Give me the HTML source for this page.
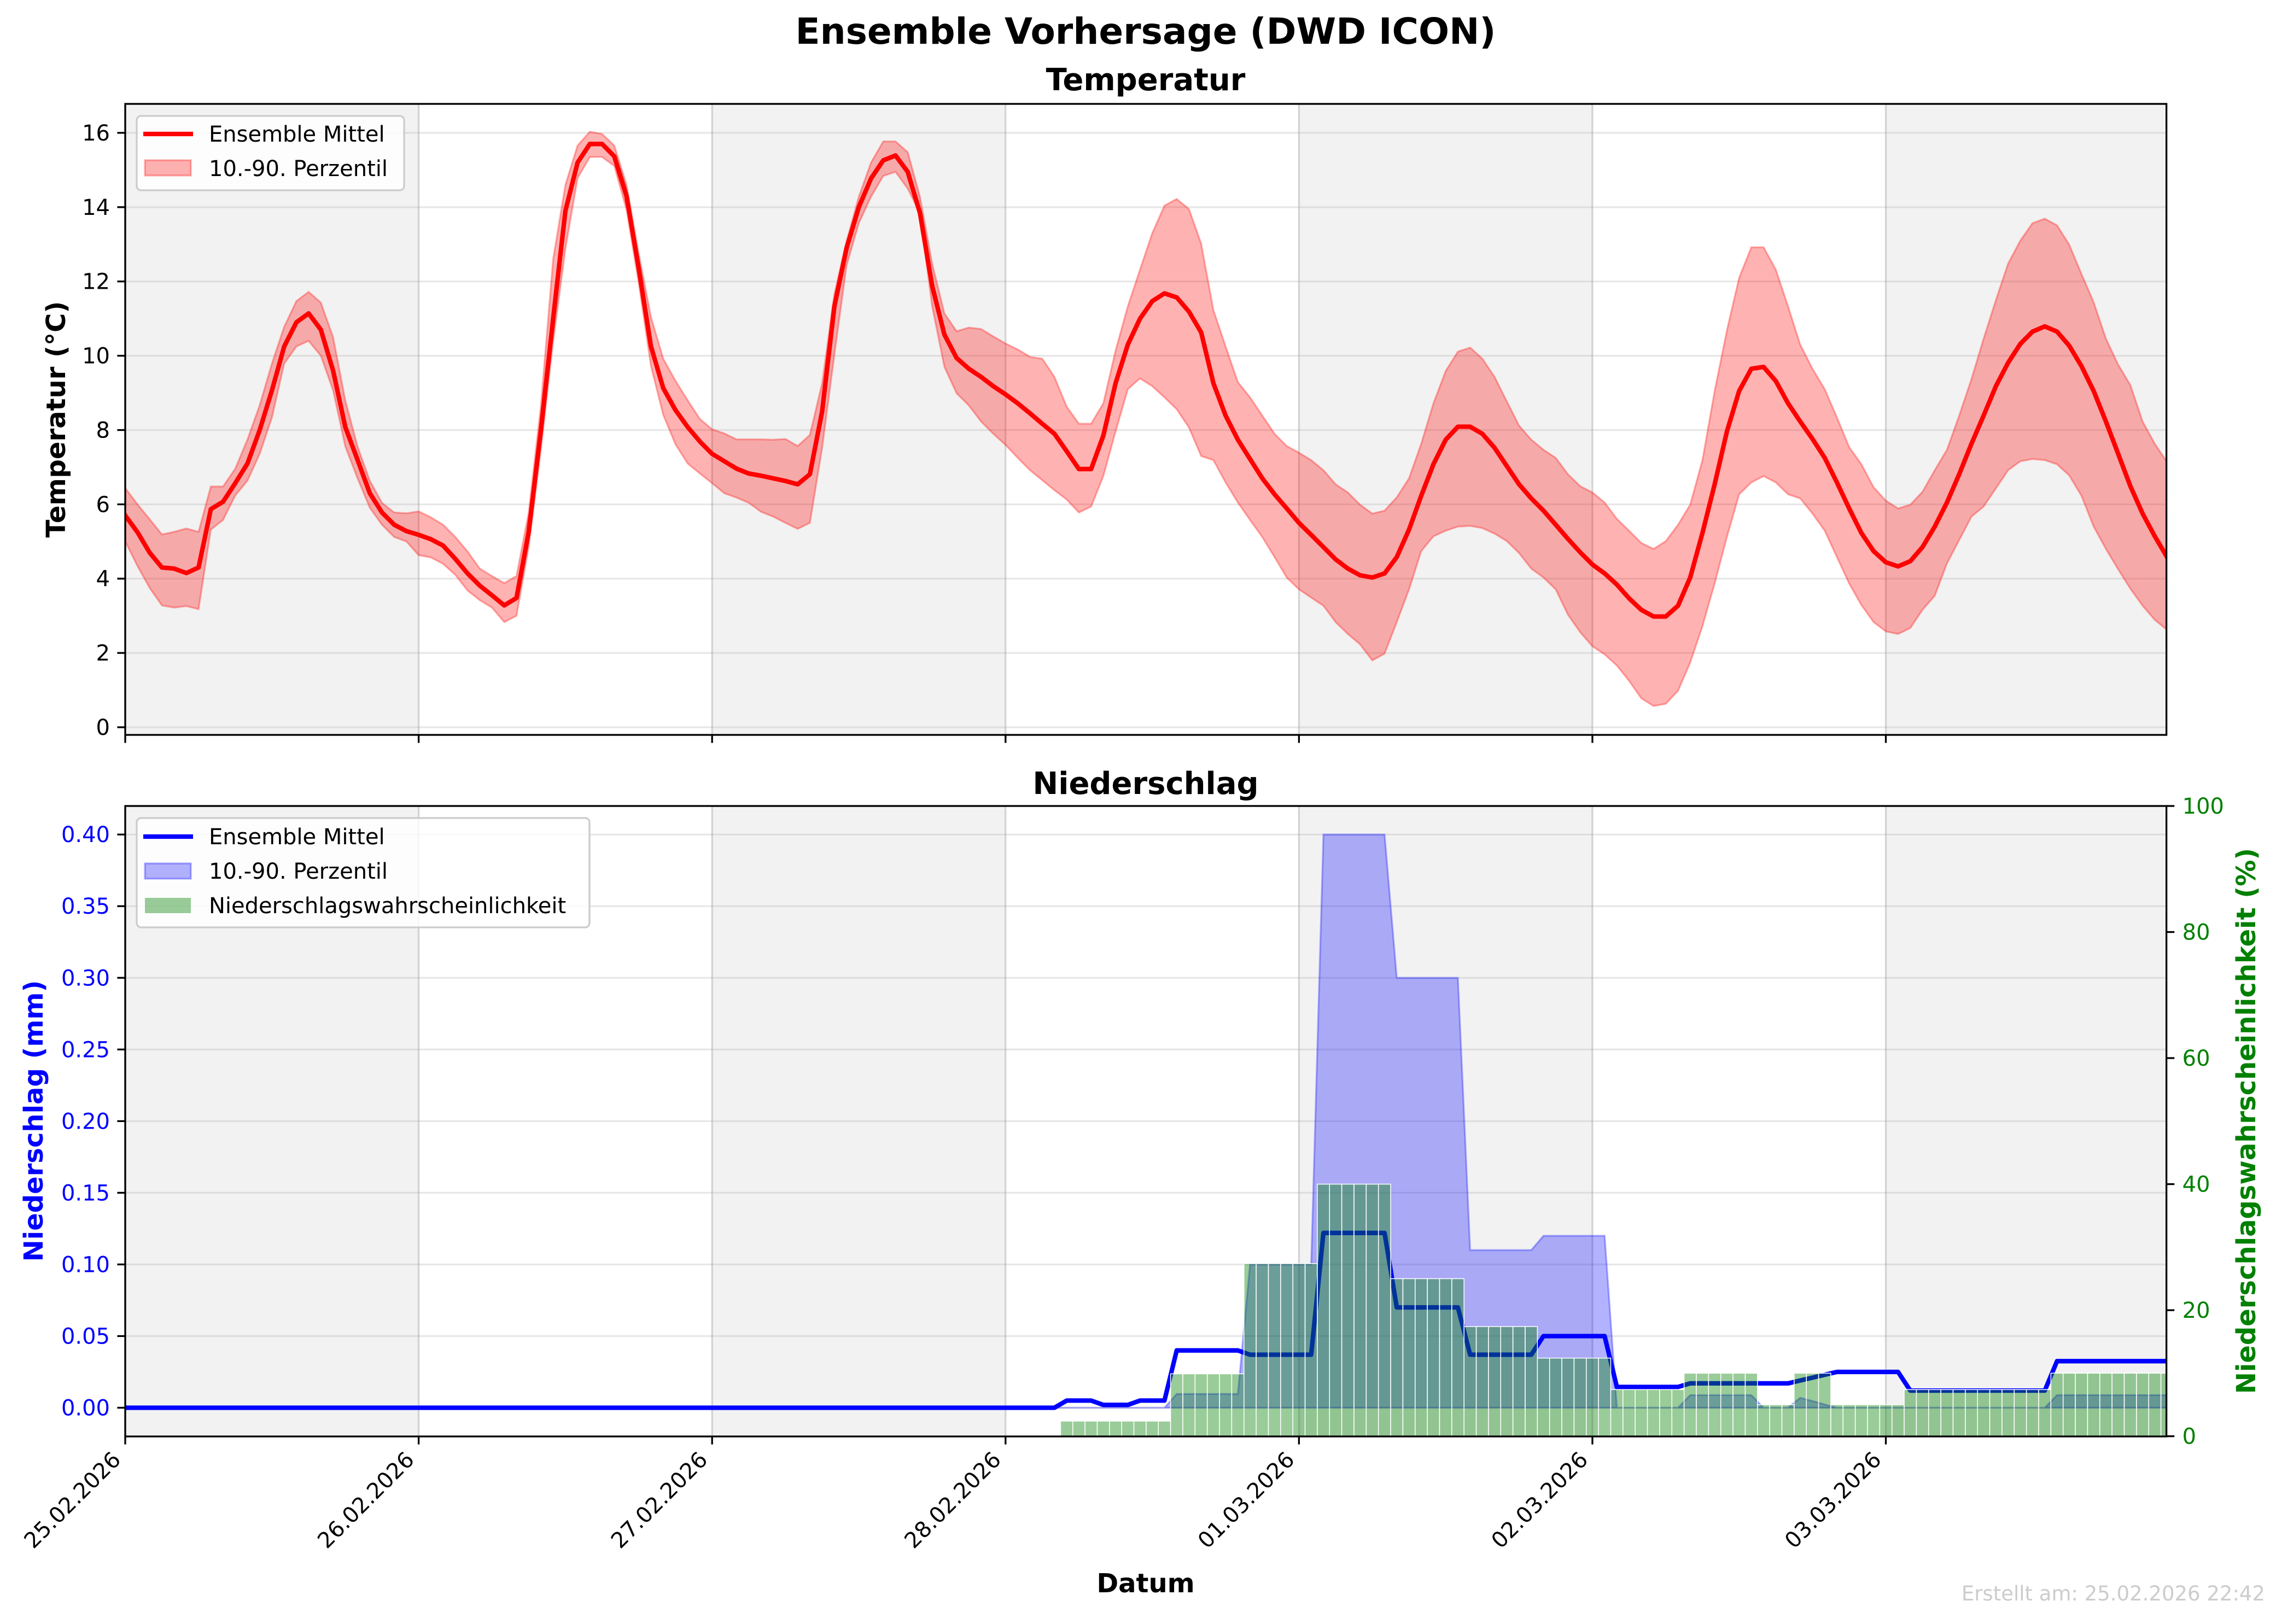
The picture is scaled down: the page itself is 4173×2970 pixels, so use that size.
<!DOCTYPE html>
<html><head><meta charset="utf-8"><style>
html,body{margin:0;padding:0;background:#fff;}
svg{display:block;font-family:"DejaVu Sans","Liberation Sans",sans-serif;}
</style></head><body>
<svg id="fig" xmlns="http://www.w3.org/2000/svg" width="4173" height="2970" viewBox="0 0 4173 2970">
<rect x="0" y="0" width="4173" height="2970" fill="#ffffff"/>
<text x="2095" y="80" text-anchor="middle" font-size="66" font-weight="bold">Ensemble Vorhersage (DWD ICON)</text>
<text x="2095" y="165" text-anchor="middle" font-size="56" font-weight="bold">Temperatur</text>
<text x="2095" y="1452" text-anchor="middle" font-size="56" font-weight="bold">Niederschlag</text>
<g id="tplot"></g>
<g id="pplot"></g>
<text x="103" y="767" text-anchor="middle" font-size="48" font-weight="bold" transform="rotate(-90 103 767)" dominant-baseline="central">Temperatur (°C)</text>
<text x="62" y="2050" text-anchor="middle" font-size="48" font-weight="bold" fill="#0000ff" transform="rotate(-90 62 2050)" dominant-baseline="central">Niederschlag (mm)</text>
<text x="4108" y="2050" text-anchor="middle" font-size="48" font-weight="bold" fill="#008000" transform="rotate(-90 4108 2050)" dominant-baseline="central">Niederschlagswahrscheinlichkeit (%)</text>
<text x="2095" y="2912" text-anchor="middle" font-size="48" font-weight="bold">Datum</text>
<text x="4142" y="2927" text-anchor="end" font-size="37" fill="#cccccc">Erstellt am: 25.02.2026 22:42</text>
</svg>
<script>
// ---- data ----
const dayLabels = ["25.02.2026","26.02.2026","27.02.2026","28.02.2026","01.03.2026","02.03.2026","03.03.2026"];
const tempTicks = [0,2,4,6,8,10,12,14,16];
const precipTicks = [0,0.05,0.10,0.15,0.20,0.25,0.30,0.35,0.40];
const probTicks = [0,20,40,60,80,100];
const tempMean = [5.7,5.25,4.7,4.3,4.27,4.15,4.3,5.87,6.07,6.57,7.1,8.0,9.07,10.25,10.9,11.14,10.7,9.6,8.08,7.2,6.3,5.78,5.45,5.28,5.18,5.06,4.89,4.53,4.14,3.81,3.55,3.28,3.48,5.26,8.0,11.0,13.9,15.2,15.7,15.7,15.37,14.3,12.35,10.25,9.13,8.54,8.08,7.69,7.36,7.16,6.96,6.83,6.77,
6.70,6.63,6.54,6.81,8.50,11.33,12.9,14.0,14.77,15.26,15.39,14.95,13.84,11.88,10.57,9.94,9.65,9.43,9.18,8.96,8.72,8.45,8.17,7.9,7.43,6.95,6.95,7.85,9.26,10.3,11.0,11.47,11.68,11.57,11.19,10.63,9.26,8.39,7.74,7.22,6.7,6.27,5.89,5.5,5.18,4.85,4.52,4.27,4.09,4.03,4.14,4.58,5.32,6.23,7.08,7.74,8.09,
8.09,7.9,7.52,7.03,6.54,6.16,5.83,5.45,5.07,4.71,4.38,4.14,3.84,3.47,3.16,2.98,2.98,3.27,4.03,5.23,6.54,7.96,9.05,9.65,9.7,9.32,8.72,8.23,7.76,7.25,6.59,5.89,5.23,4.74,4.44,4.33,4.47,4.85,5.4,6.05,6.81,7.63,8.39,9.18,9.81,10.32,10.65,10.79,10.65,10.27,9.72,9.05,8.23,7.36,6.49,5.75,5.14,4.58];
const tempP90 = [6.44,6.0,5.6,5.19,5.26,5.35,5.26,6.48,6.48,6.96,7.75,8.67,9.79,10.78,11.47,11.72,11.43,10.5,8.8,7.56,6.64,6.04,5.78,5.76,5.81,5.65,5.45,5.12,4.73,4.27,4.07,3.88,4.07,5.78,8.67,12.6,14.6,15.66,16.03,15.97,15.66,14.6,12.75,11.04,9.92,9.33,8.8,8.3,8.02,7.91,7.75,7.75,7.75,
7.74,7.76,7.57,7.87,9.26,11.66,13.08,14.28,15.2,15.77,15.77,15.48,14.28,12.48,11.14,10.66,10.76,10.72,10.52,10.33,10.17,9.97,9.92,9.43,8.63,8.17,8.17,8.72,10.14,11.33,12.32,13.3,14.04,14.22,13.95,13.02,11.23,10.25,9.29,8.88,8.39,7.9,7.57,7.39,7.19,6.92,6.54,6.32,5.99,5.75,5.83,6.19,6.7,7.63,8.72,9.59,10.11,
10.22,9.92,9.43,8.77,8.12,7.74,7.47,7.25,6.81,6.49,6.32,6.05,5.61,5.29,4.96,4.8,5.01,5.45,5.99,7.19,9.05,10.68,12.1,12.92,12.92,12.32,11.33,10.3,9.65,9.1,8.34,7.54,7.08,6.46,6.1,5.89,5.99,6.34,6.92,7.47,8.39,9.37,10.46,11.5,12.48,13.1,13.57,13.69,13.51,12.99,12.2,11.44,10.46,9.76,9.21,8.23,7.63,7.14];
const tempP10 = [5.0,4.34,3.75,3.28,3.22,3.26,3.18,5.32,5.58,6.24,6.64,7.36,8.34,9.79,10.25,10.4,10.0,9.07,7.56,6.7,5.91,5.45,5.12,5.0,4.63,4.57,4.4,4.1,3.68,3.42,3.22,2.83,3.0,4.86,7.49,10.38,12.88,14.78,15.35,15.35,15.11,13.93,11.96,9.72,8.41,7.62,7.1,6.83,6.57,6.3,6.18,6.04,5.8,
5.67,5.5,5.34,5.5,7.52,10.03,12.43,13.57,14.28,14.84,14.95,14.5,13.84,11.33,9.7,8.99,8.66,8.23,7.9,7.6,7.25,6.92,6.65,6.38,6.13,5.78,5.94,6.76,7.96,9.1,9.39,9.18,8.88,8.56,8.07,7.3,7.19,6.59,6.05,5.58,5.12,4.58,4.03,3.71,3.49,3.27,2.83,2.51,2.23,1.8,1.98,2.83,3.71,4.74,5.14,5.29,5.4,
5.42,5.36,5.21,5.01,4.69,4.27,4.03,3.71,3.03,2.56,2.18,1.96,1.66,1.25,0.78,0.57,0.63,0.98,1.74,2.72,3.87,5.12,6.27,6.59,6.76,6.59,6.27,6.16,5.75,5.29,4.58,3.87,3.29,2.83,2.58,2.51,2.67,3.16,3.54,4.41,5.04,5.67,5.94,6.43,6.92,7.16,7.22,7.19,7.08,6.78,6.23,5.4,4.8,4.25,3.73,3.27,2.89,2.62];
const precipMean = [0,0,0,0,0,0,0,0,0,0,0,0,0,0,0,0,0,0,0,0,0,0,0,0,0,0,0,0,0,0,0,0,0,0,0,0,0,0,0,0,0,0,0,0,0,0,0,0,0,0,0,0,0,0,0,0,0,0,0,0,0,0,0,0,0,0,0,0,0,0,0,0,0,0,0,0,0,
0.005,0.005,0.005,0.002,0.002,0.002,0.005,0.005,0.005,
0.040,0.040,0.040,0.040,0.040,0.040,0.037,0.037,0.037,0.037,0.037,0.037,
0.122,0.122,0.122,0.122,0.122,0.122,0.070,0.070,0.070,0.070,0.070,0.070,
0.037,0.037,0.037,0.037,0.037,0.037,0.050,0.050,0.050,0.050,0.050,0.050,
0.0145,0.0145,0.0145,0.0145,0.0145,0.0145,0.017,0.017,0.017,0.017,0.017,0.017,0.017,0.017,0.017,
0.019,0.021,0.023,0.025,0.025,0.025,0.025,0.025,0.025,
0.012,0.012,0.012,0.012,0.012,0.012,0.012,0.012,0.012,0.012,0.012,0.012,
0.0325,0.0325,0.0325,0.0325,0.0325,0.0325,0.0325,0.0325,0.0325,0.0325];
const precipP90 = [0,0,0,0,0,0,0,0,0,0,0,0,0,0,0,0,0,0,0,0,0,0,0,0,0,0,0,0,0,0,0,0,0,0,0,0,0,0,0,0,0,0,0,0,0,0,0,0,0,0,0,0,0,0,0,0,0,0,0,0,0,0,0,0,0,0,0,0,0,0,0,0,0,0,0,0,0,0,0,0,0,0,0,0,0,0,
0.0096,0.0096,0.0096,0.0096,0.0096,0.0096,0.10,0.10,0.10,0.10,0.10,0.10,
0.40,0.40,0.40,0.40,0.40,0.40,0.30,0.30,0.30,0.30,0.30,0.30,
0.11,0.11,0.11,0.11,0.11,0.11,0.12,0.12,0.12,0.12,0.12,0.12,
0,0,0,0,0,0,0.0088,0.0088,0.0088,0.0088,0.0088,0.0088,0,0,0,
0.007,0.0047,0.0023,0,0,0,0,0,0,0,0,0,0,0,0,0,0,0,0,0,0,
0.0088,0.0088,0.0088,0.0088,0.0088,0.0088,0.0088,0.0088,0.0088,0.0088];
const precipP10 = [0,0,0,0,0,0,0,0,0,0,0,0,0,0,0,0,0,0,0,0,0,0,0,0,0,0,0,0,0,0,0,0,0,0,0,0,0,0,0,0,0,0,0,0,0,0,0,0,0,0,0,0,0,0,0,0,0,0,0,0,0,0,0,0,0,0,0,0,0,0,0,0,0,0,0,0,0,0,0,0,0,0,0,0,0,0,0,0,0,0,0,0,0,0,0,0,0,0,0,0,0,0,0,0,0,0,0,0,0,0,0,0,0,0,0,0,0,0,0,0,0,0,0,0,0,0,0,0,0,0,0,0,0,0,0,0,0,0,0,0,0,0,0,0,0,0,0,0,0,0,0,0,0,0,0,0,0,0,0,0,0,0,0,0,0,0,0,0];
const precipProb = [0,0,0,0,0,0,0,0,0,0,0,0,0,0,0,0,0,0,0,0,0,0,0,0,0,0,0,0,0,0,0,0,0,0,0,0,0,0,0,0,0,0,0,0,0,0,0,0,0,0,0,0,0,0,0,0,0,0,0,0,0,0,0,0,0,0,0,0,0,0,0,0,0,0,0,0,0,
2.4,2.4,2.4,2.4,2.4,2.4,2.4,2.4,2.4,
9.9,9.9,9.9,9.9,9.9,9.9,27.4,27.4,27.4,27.4,27.4,27.4,
40,40,40,40,40,40,25,25,25,25,25,25,
17.4,17.4,17.4,17.4,17.4,17.4,12.4,12.4,12.4,12.4,12.4,12.4,
7.4,7.4,7.4,7.4,7.4,7.4,10,10,10,10,10,10,5,5,5,10,10,10,
5,5,5,5,5,5,7.4,7.4,7.4,7.4,7.4,7.4,7.4,7.4,7.4,7.4,7.4,7.4,
10,10,10,10,10,10,10,10,10,10];

// ---- layout ----
const NS = "http://www.w3.org/2000/svg";
const X0 = 229, HOUR = 22.358, XMAX_H = 166.95;
const X1 = X0 + XMAX_H * HOUR;
const T_TOP = 190, T_BOT = 1344;
const P_TOP = 1474, P_BOT = 2627;
const xS = h => X0 + h * HOUR;
const yT = v => 1330 - v * 67.94;
const yP = v => 2574.5 - v * 2620.8;
const yQ = v => 2626.6 - v * 11.526;

function mk(parent, tag, attrs, text) {
  const el = document.createElementNS(NS, tag);
  for (const k in attrs) el.setAttribute(k, attrs[k]);
  if (text !== undefined) el.textContent = text;
  parent.appendChild(el);
  return el;
}
const svg = document.getElementById('fig');
const defs = mk(svg, 'defs', {});
const cp1 = mk(defs, 'clipPath', {id: 'clipT'});
mk(cp1, 'rect', {x: X0, y: T_TOP, width: X1 - X0, height: T_BOT - T_TOP});
const cp2 = mk(defs, 'clipPath', {id: 'clipP'});
mk(cp2, 'rect', {x: X0, y: P_TOP, width: X1 - X0, height: P_BOT - P_TOP});

function buildFrame(g, top, bot, clipId, hTicks, yFn, tickColor, fmt, pre) {
  const clipG = mk(g, 'g', {'clip-path': 'url(#' + clipId + ')'});
  
  
  for (let d = 0; d < dayLabels.length; d += 2) {
    const r = mk(clipG, 'rect', {x: xS(d * 24), y: top, width: 24 * HOUR, height: bot - top, fill: '#f2f2f2'});
    
    
  }
  hTicks.forEach(v => {
    const l = mk(clipG, 'line', {x1: X0, x2: X1, y1: yFn(v), y2: yFn(v), stroke: '#b0b0b0', 'stroke-opacity': 0.3, 'stroke-width': 3.3});
    
    
  });
  dayLabels.forEach((lab, i) => {
    const l = mk(clipG, 'line', {x1: xS(i * 24), x2: xS(i * 24), y1: top, y2: bot, stroke: '#9a9a9a', 'stroke-opacity': 0.4, 'stroke-width': 3.3});
    
    
  });
  hTicks.forEach(v => {
    const t = mk(g, 'line', {x1: X0 - 14.6, x2: X0, y1: yFn(v), y2: yFn(v), stroke: '#000', 'stroke-width': 3.3});
    
    
    const tx = mk(g, 'text', {x: X0 - 28, y: yFn(v) + 14, 'text-anchor': 'end', 'font-size': 40, fill: tickColor}, fmt(v));
    
    
  });
  dayLabels.forEach((lab, i) => {
    const t = mk(g, 'line', {x1: xS(i * 24), x2: xS(i * 24), y1: bot, y2: bot + 14.6, stroke: '#000', 'stroke-width': 3.3});
    
    
  });
  return clipG;
}

// ---- temperature chart ----
const tg = document.getElementById('tplot');
const tClip = buildFrame(tg, T_TOP, T_BOT, 'clipT', tempTicks, yT, '#000', v => String(v), 'temp');
let bandPts = tempP90.map((v, i) => xS(i).toFixed(1) + ',' + yT(v).toFixed(1));
for (let i = tempP10.length - 1; i >= 0; i--) bandPts.push(xS(i).toFixed(1) + ',' + yT(tempP10[i]).toFixed(1));
const tBand = mk(tClip, 'polygon', {points: bandPts.join(' '), fill: '#ff0000', 'fill-opacity': 0.3, stroke: '#ff0000', 'stroke-opacity': 0.3, 'stroke-width': 3.3});


const tLine = mk(tClip, 'polyline', {points: tempMean.map((v, i) => xS(i).toFixed(1) + ',' + yT(v).toFixed(1)).join(' '), fill: 'none', stroke: '#ff0000', 'stroke-width': 8.3, 'stroke-linejoin': 'round', 'stroke-linecap': 'square'});


const tFrame = mk(tg, 'rect', {x: X0, y: T_TOP, width: X1 - X0, height: T_BOT - T_TOP, fill: 'none', stroke: '#000', 'stroke-width': 3.3});


// legend
const tLeg = mk(tg, 'g', {});


mk(tLeg, 'rect', {x: 250, y: 212, width: 489, height: 136, rx: 8, fill: '#ffffff', 'fill-opacity': 0.8, stroke: '#cccccc', 'stroke-width': 3.3});
const tl1 = mk(tLeg, 'line', {x1: 262, x2: 353, y1: 245, y2: 245, stroke: '#ff0000', 'stroke-width': 8.3});


mk(tLeg, 'text', {x: 382, y: 259, 'font-size': 40}, 'Ensemble Mittel');
const tl2 = mk(tLeg, 'rect', {x: 265, y: 293, width: 84, height: 28, fill: '#ff0000', 'fill-opacity': 0.3, stroke: '#ff0000', 'stroke-opacity': 0.3, 'stroke-width': 3.3});


mk(tLeg, 'text', {x: 382, y: 322, 'font-size': 40}, '10.-90. Perzentil');

// ---- precipitation chart ----
const pg = document.getElementById('pplot');
const pClip = buildFrame(pg, P_TOP, P_BOT, 'clipP', precipTicks, yP, '#0000ff', v => v.toFixed(2), 'precip');
let pPts = precipP90.map((v, i) => xS(i).toFixed(1) + ',' + yP(v).toFixed(1));
for (let i = precipP10.length - 1; i >= 0; i--) pPts.push(xS(i).toFixed(1) + ',' + yP(precipP10[i]).toFixed(1));
const pBand = mk(pClip, 'polygon', {points: pPts.join(' '), fill: '#0000ff', 'fill-opacity': 0.3, stroke: '#0000ff', 'stroke-opacity': 0.3, 'stroke-width': 3.3});


const pLine = mk(pClip, 'polyline', {points: precipMean.map((v, i) => xS(i).toFixed(1) + ',' + yP(v).toFixed(1)).join(' '), fill: 'none', stroke: '#0000ff', 'stroke-width': 8.3, 'stroke-linejoin': 'round'});


const barG = mk(pClip, 'g', {});


precipProb.forEach((p, i) => {
  if (p <= 0) return;
  const b = mk(barG, 'rect', {x: xS(i - 0.5), y: yQ(p), width: HOUR, height: yQ(0) - yQ(p), fill: '#008000', 'fill-opacity': 0.4, stroke: '#ffffff', 'stroke-width': 1.5});
  
  
});
const pFrame = mk(pg, 'rect', {x: X0, y: P_TOP, width: X1 - X0, height: P_BOT - P_TOP, fill: 'none', stroke: '#000', 'stroke-width': 3.3});


probTicks.forEach(v => {
  const t = mk(pg, 'line', {x1: X1, x2: X1 + 14.6, y1: yQ(v), y2: yQ(v), stroke: '#000', 'stroke-width': 3.3});
  
  
  const tx = mk(pg, 'text', {x: X1 + 29, y: yQ(v) + 14, 'font-size': 40, fill: '#008000'}, String(v));
  
  
});
dayLabels.forEach((lab, i) => {
  const px = xS(i * 24) - 6, py = 2672;
  const tx = mk(pg, 'text', {x: px, y: py, 'text-anchor': 'end', 'font-size': 40, transform: 'rotate(-45 ' + px + ' ' + py + ')'}, lab);
  
  
});
// legend
const pLeg = mk(pg, 'g', {});


mk(pLeg, 'rect', {x: 250, y: 1496, width: 828, height: 200, rx: 8, fill: '#ffffff', 'fill-opacity': 0.8, stroke: '#cccccc', 'stroke-width': 3.3});
const pl1 = mk(pLeg, 'line', {x1: 262, x2: 353, y1: 1530, y2: 1530, stroke: '#0000ff', 'stroke-width': 8.3});


mk(pLeg, 'text', {x: 382, y: 1544, 'font-size': 40}, 'Ensemble Mittel');
const pl2 = mk(pLeg, 'rect', {x: 265, y: 1579, width: 84, height: 28, fill: '#0000ff', 'fill-opacity': 0.3, stroke: '#0000ff', 'stroke-opacity': 0.3, 'stroke-width': 3.3});


mk(pLeg, 'text', {x: 382, y: 1607, 'font-size': 40}, '10.-90. Perzentil');
const pl3 = mk(pLeg, 'rect', {x: 265, y: 1642, width: 84, height: 28, fill: '#008000', 'fill-opacity': 0.4});


mk(pLeg, 'text', {x: 382, y: 1670, 'font-size': 40}, 'Niederschlagswahrscheinlichkeit');
</script>
</body></html>
